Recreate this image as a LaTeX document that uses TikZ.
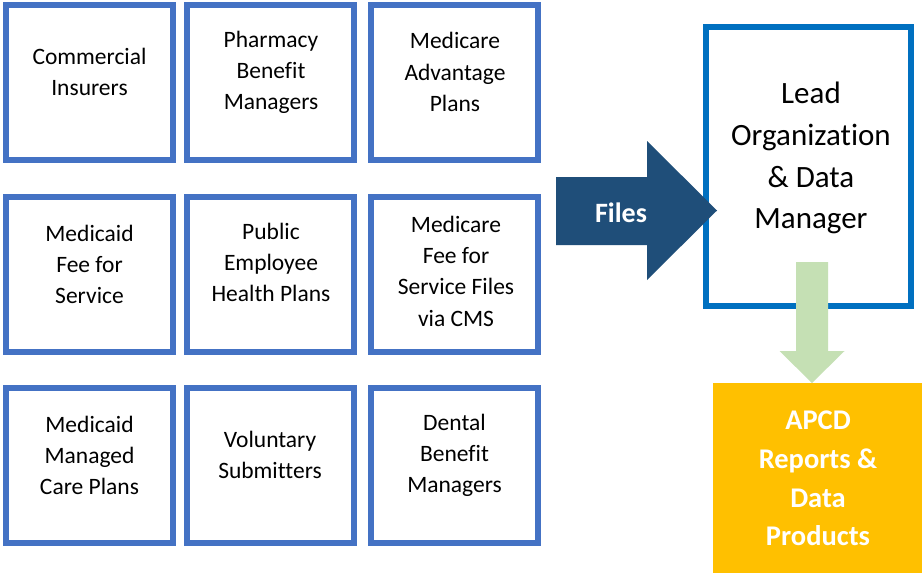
\documentclass[tikz,border=0pt]{standalone}
\usepackage{fontspec}
\setmainfont[Ligatures=NoCommon]{Carlito}
\definecolor{boxblue}{HTML}{4472C4}
\definecolor{leadblue}{HTML}{0070C0}
\definecolor{darkarrow}{HTML}{1F4E79}
\definecolor{greenarrow}{HTML}{C5E0B4}
\definecolor{orangebox}{HTML}{FFC000}
\begin{document}
\begin{tikzpicture}[x=1pt,y=-1pt,
  srcbox/.style={draw=boxblue,line width=6pt,minimum width=167pt,minimum height=155pt,inner sep=0pt},
  srctxt/.style={align=center,inner sep=0pt,font=\fontsize{23.5}{31.2}\selectfont,text=black},
  leadbox/.style={draw=leadblue,line width=6pt,minimum width=205pt,minimum height=279pt,inner sep=0pt},
  leadtxt/.style={align=center,inner sep=0pt,font=\fontsize{31}{41.8}\selectfont,text=black},
  outbox/.style={fill=orangebox,minimum width=209pt,minimum height=190pt,inner sep=0pt},
  outtxt/.style={align=center,inner sep=0pt,font=\bfseries\fontsize{28.5}{38.8}\selectfont,text=white}]
\useasboundingbox (0,0) rectangle (922,573);
\fill[white] (0,0) rectangle (922,573);
% source boxes
\node[srcbox] (b11) at (89.5,82) {};
\node[srcbox] (b12) at (270.5,82) {};
\node[srcbox] (b13) at (454.5,82) {};
\node[srcbox] (b21) at (89.5,274) {};
\node[srcbox] (b22) at (270.5,274) {};
\node[srcbox] (b23) at (454.5,274) {};
\node[srcbox] (b31) at (89.5,465.5) {};
\node[srcbox] (b32) at (270.5,465.5) {};
\node[srcbox] (b33) at (454.5,465.5) {};
\node[srctxt] (t11) at (89.5,71.8) {Commercial\\Insurers};
\node[srctxt] (t12) at (271,72.3) {Pharmacy\\Benefit\\Managers};
\node[srctxt] (t13) at (455,72) {Medicare\\Advantage\\Plans};
\node[srctxt] (t21) at (89.5,264.3) {Medicaid\\Fee for\\Service};
\node[srctxt] (t22) at (271,262.3) {Public\\Employee\\Health Plans};
\node[srctxt] (t23) at (456,271.3) {Medicare\\Fee for\\Service Files\\via CMS};
\node[srctxt] (t31) at (89.5,455.3) {Medicaid\\Managed\\Care Plans};
\node[srctxt] (t32) at (270,455.3) {Voluntary\\Submitters};
\node[srctxt] (t33) at (454.5,455.5) {Dental\\Benefit\\Managers};
% lead box
\node[leadbox] (lead) at (808.5,166.5) {};
\node[leadtxt] (leadt) at (811,158) {Lead\\Organization\\\& Data\\Manager};
% output box
\node[outbox] (out) at (817.5,478) {};
\node[outtxt] (outt) at (818,478.5) {APCD\\Reports \&\\Data\\Products};
% files arrow
\fill[darkarrow] (556,177) -- (647,177) -- (647,141) -- (717,210.5) -- (647,280) -- (647,245) -- (556,245) -- cycle;
\node[font=\bfseries\fontsize{28}{30}\selectfont,text=white,inner sep=0pt] (files) at (621,213) {Files};
% green arrow
\fill[greenarrow] (796,262) -- (828,262) -- (828,351) -- (844.5,351) -- (812,383) -- (779.5,351) -- (796,351) -- cycle;
\end{tikzpicture}
\end{document}
